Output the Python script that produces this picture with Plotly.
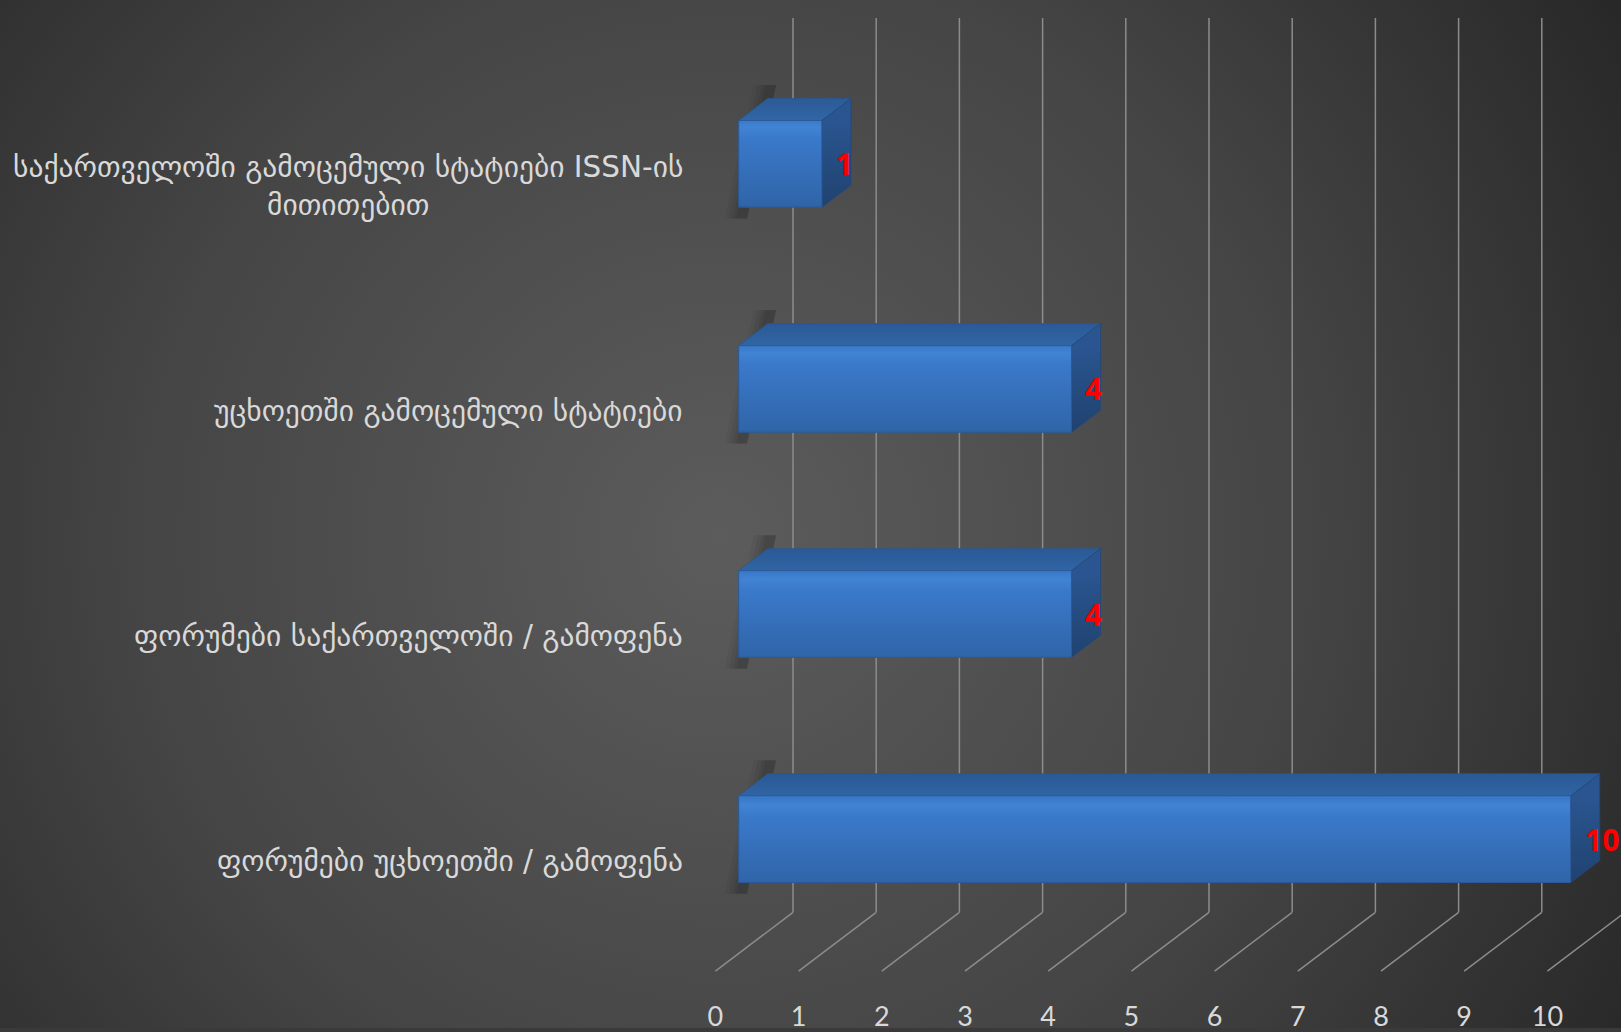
import base64
import plotly.graph_objects as go

# ---------------- data ----------------
categories = [
    "ფორუმები უცხოეთში / გამოფენა",
    "ფორუმები საქართველოში / გამოფენა",
    "უცხოეთში გამოცემული სტატიები",
    "საქართველოში გამოცემული სტატიები ISSN-ის<br>მითითებით",
]
values = [10, 4, 4, 1]
tick_values = list(range(0, 11))
tick_labels = [str(t) for t in tick_values]

# ---------------- geometry / style ----------------
W, H = 1621, 1032
MB = 30
PLOT_H = H - MB
PX_UNIT = 83.2      # pixels per value unit
X0 = 715.4          # pixel of value 0 on the front floor edge
PX_CAT = 226.0      # pixels between categories
Y0 = 842.5          # pixel of first category (front face centre)

DX = 77.6 / PX_UNIT  # oblique depth offset (value units) for full depth
DY = 59.0 / PX_CAT   # oblique depth offset (category units) for full depth
F1, F2 = 0.30, 0.675  # bar depth span (fraction of full depth)
HB = 0.385           # bar height in category units
FLOOR = -0.508
WALL_TOP = 3.465

GRID = "#8c8c8c"
TXT = "#d9d9d9"


def P(v, f, c):
    return v + f * DX, c + (f - F1) * DY


fig = go.Figure()

# back wall gridlines
gx, gy = [], []
for t in tick_values:
    a = P(t, 1, FLOOR)
    b = P(t, 1, WALL_TOP)
    gx += [a[0], b[0], None]
    gy += [a[1], b[1], None]
fig.add_trace(go.Scatter(x=gx, y=gy, mode="lines", line=dict(color=GRID, width=1.5),
                         hoverinfo="skip", showlegend=False))
# floor lines
fx, fy = [], []
for t in tick_values:
    a = P(t, 0, FLOOR)
    b = P(t, 1, FLOOR)
    fx += [a[0], b[0], None]
    fy += [a[1], b[1], None]
fig.add_trace(go.Scatter(x=fx, y=fy, mode="lines", line=dict(color=GRID, width=1.5),
                         hoverinfo="skip", showlegend=False))


def poly(pts, **kw):
    xs = [p[0] for p in pts] + [pts[0][0]]
    ys = [p[1] for p in pts] + [pts[0][1]]
    fig.add_trace(go.Scatter(x=xs, y=ys, mode="lines", fill="toself",
                             hoverinfo="skip", showlegend=False, **kw))


for i, v in enumerate(values):
    bot, top = i - HB / 2, i + HB / 2
    # soft shadow on the left (layered for a blur-like look)
    for k, a in [(0.17, 0.04), (0.12, 0.05), (0.07, 0.06), (0.03, 0.07)]:
        s = [P(-k, F1, bot - 0.05), P(0.1, F1, bot - 0.05),
             P(0.1, F2, top + 0.06), P(-k, F2, top + 0.06)]
        poly(s, line=dict(width=0), fillcolor="rgba(0,0,0,%.2f)" % a)
    # top face
    tf = [P(0, F1, top), P(v, F1, top), P(v, F2, top), P(0, F2, top)]
    poly(tf, line=dict(width=0.8, color="#2a5790"),
         fillgradient=dict(type="vertical", start=tf[0][1], stop=tf[2][1],
                           colorscale=[[0, "#3166a5"], [1, "#2b5b97"]]))
    # side face
    sf = [P(v, F1, bot), P(v, F2, bot), P(v, F2, top), P(v, F1, top)]
    poly(sf, line=dict(width=0.8, color="#23487a"),
         fillgradient=dict(type="vertical", start=sf[0][1], stop=sf[3][1],
                           colorscale=[[0, "#1f426f"], [1, "#2a5590"]]))
    # front face
    ff = [P(0, F1, bot), P(v, F1, bot), P(v, F1, top), P(0, F1, top)]
    poly(ff, line=dict(width=1, color="#2a5a98"),
         fillgradient=dict(type="vertical", start=ff[0][1], stop=ff[2][1],
                           colorscale=[[0, "#2d60a3"], [0.05, "#3065a9"], [0.8, "#3a79ca"],
                                       [0.93, "#4184d3"], [1, "#3b7acb"]]))

annotations = []
for i, (c, v) in enumerate(zip(categories, values)):
    annotations.append(dict(
        xref="paper", yref="y", x=685 / W, y=i, xanchor="right", yanchor="middle",
        yshift=-22, text=c, showarrow=False, align="center",
        font=dict(family="DejaVu Sans", size=29.5, color=TXT)))
    annotations.append(dict(
        xref="x", yref="y", x=v + F1 * DX, y=i, xanchor="left", yanchor="middle",
        xshift=12, text="<b>%d</b>" % v, showarrow=False,
        font=dict(family="Open Sans", size=30, color="#ff0000")))

svg = f'''<svg xmlns="http://www.w3.org/2000/svg" width="{W}" height="{H}" viewBox="0 0 {W} {H}">
<defs><radialGradient id="g" cx="720" cy="540" r="1060" gradientUnits="userSpaceOnUse">
<stop offset="0" stop-color="#5c5c5c"/><stop offset="0.55" stop-color="#454545"/>
<stop offset="1" stop-color="#272727"/></radialGradient></defs>
<rect width="{W}" height="{H}" fill="url(#g)"/></svg>'''
bg_src = "data:image/svg+xml;base64," + base64.b64encode(svg.encode()).decode()

fig.update_layout(
    width=W, height=H,
    margin=dict(l=0, r=0, t=0, b=MB, pad=0),
    paper_bgcolor="#3a3a3a",
    plot_bgcolor="rgba(0,0,0,0)",
    showlegend=False,
    annotations=annotations,
    images=[dict(source=bg_src, xref="paper", yref="paper", x=0, y=1,
                 sizex=1, sizey=H / PLOT_H, xanchor="left", yanchor="top",
                 sizing="stretch", layer="below")],
    xaxis=dict(range=[-X0 / PX_UNIT, (W - X0) / PX_UNIT], tickvals=tick_values,
               ticktext=tick_labels, showgrid=False, zeroline=False, showline=False,
               ticks="", tickfont=dict(family="Lato", size=27, color=TXT), fixedrange=True),
    yaxis=dict(range=[(Y0 - PLOT_H) / PX_CAT, Y0 / PX_CAT], visible=False,
               showgrid=False, zeroline=False, fixedrange=True),
)

fig.write_html(
    "out.html",
    config={"displayModeBar": False},
    post_script="document.body.style.margin='0';document.body.style.overflow='hidden';",
)
